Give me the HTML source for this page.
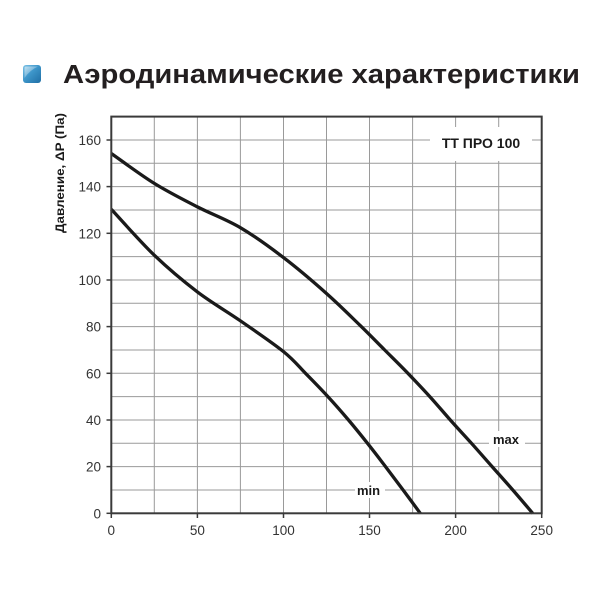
<!DOCTYPE html>
<html>
<head>
<meta charset="utf-8">
<style>
html,body{margin:0;padding:0;background:#fff;}
svg{display:block;}
</style>
</head>
<body>
<svg width="600" height="600" viewBox="0 0 600 600" xmlns="http://www.w3.org/2000/svg">
<defs>
<linearGradient id="ig" x1="0" y1="0" x2="1" y2="1">
<stop offset="0" stop-color="#7cc2e6"/>
<stop offset="0.45" stop-color="#3d95c9"/>
<stop offset="1" stop-color="#1f6fa5"/>
</linearGradient>
<linearGradient id="hl" x1="0" y1="0" x2="1" y2="1">
<stop offset="0" stop-color="#ffffff" stop-opacity="0.55"/>
<stop offset="1" stop-color="#ffffff" stop-opacity="0"/>
</linearGradient>
</defs>
<rect width="600" height="600" fill="#fff"/>
<!-- title icon -->
<rect x="23" y="65" width="18" height="18" rx="3" ry="3" fill="url(#ig)"/>
<path d="M24.5,78 L24.5,68 Q24.5,66.5 26,66.5 L38,66.5 Q30,70 24.5,78 Z" fill="url(#hl)"/>
<!-- title -->
<text x="63" y="83" font-family="Liberation Sans, sans-serif" font-weight="bold" font-size="25.5" fill="#231f20" textLength="517" lengthAdjust="spacingAndGlyphs">Аэродинамические характеристики</text>

<!-- grid -->
<g stroke="#9a9a9a" stroke-width="1" fill="none">
<line x1="154.3" y1="116.6" x2="154.3" y2="513.3"/>
<line x1="197.4" y1="116.6" x2="197.4" y2="513.3"/>
<line x1="240.4" y1="116.6" x2="240.4" y2="513.3"/>
<line x1="283.5" y1="116.6" x2="283.5" y2="513.3"/>
<line x1="326.5" y1="116.6" x2="326.5" y2="513.3"/>
<line x1="369.5" y1="116.6" x2="369.5" y2="513.3"/>
<line x1="412.6" y1="116.6" x2="412.6" y2="513.3"/>
<line x1="455.6" y1="116.6" x2="455.6" y2="513.3"/>
<line x1="498.7" y1="116.6" x2="498.7" y2="513.3"/>
<line x1="111.3" y1="490.0" x2="541.7" y2="490.0"/>
<line x1="111.3" y1="466.6" x2="541.7" y2="466.6"/>
<line x1="111.3" y1="443.3" x2="541.7" y2="443.3"/>
<line x1="111.3" y1="420.0" x2="541.7" y2="420.0"/>
<line x1="111.3" y1="396.6" x2="541.7" y2="396.6"/>
<line x1="111.3" y1="373.3" x2="541.7" y2="373.3"/>
<line x1="111.3" y1="350.0" x2="541.7" y2="350.0"/>
<line x1="111.3" y1="326.6" x2="541.7" y2="326.6"/>
<line x1="111.3" y1="303.3" x2="541.7" y2="303.3"/>
<line x1="111.3" y1="280.0" x2="541.7" y2="280.0"/>
<line x1="111.3" y1="256.6" x2="541.7" y2="256.6"/>
<line x1="111.3" y1="233.3" x2="541.7" y2="233.3"/>
<line x1="111.3" y1="210.0" x2="541.7" y2="210.0"/>
<line x1="111.3" y1="186.6" x2="541.7" y2="186.6"/>
<line x1="111.3" y1="163.3" x2="541.7" y2="163.3"/>
<line x1="111.3" y1="140.0" x2="541.7" y2="140.0"/>
</g>

<!-- model label box -->
<rect x="430" y="127" width="102" height="34" fill="#fff"/>
<text x="481" y="148" text-anchor="middle" font-family="Liberation Sans, sans-serif" font-weight="bold" font-size="14" fill="#1a1a1a">ТТ ПРО 100</text>

<!-- curves -->
<g fill="none" stroke="#1a1a1a" stroke-width="3.3" stroke-linejoin="round" stroke-linecap="butt">
<path d="M111.3,153.5 C118.5,158.5 140.0,174.5 154.3,183.4 C168.6,192.3 183.1,199.5 197.4,206.9 C211.8,214.3 226.1,219.3 240.4,227.7 C254.8,236.2 269.2,246.6 283.5,257.6 C297.9,268.6 313.8,282.2 326.5,293.5 C339.2,304.8 350.2,315.8 359.9,325.2 C369.6,334.6 376.7,342.0 384.7,350.0 C392.7,358.0 400.4,365.5 407.9,373.3 C415.4,381.1 422.7,388.8 429.8,396.6 C436.9,404.4 443.4,412.2 450.3,420.0 C457.2,427.8 464.5,435.5 471.5,443.3 C478.5,451.1 485.2,458.8 492.1,466.6 C499.0,474.4 506.0,482.2 512.8,490.0 C519.6,497.8 529.4,509.4 532.7,513.3"/>
<path d="M111.3,209.3 C118.5,217.0 140.0,241.4 154.3,255.2 C168.7,269.0 183.1,281.0 197.4,291.9 C211.8,302.8 226.1,310.9 240.4,320.8 C254.8,330.8 272.7,342.9 283.5,351.6 C294.4,360.4 298.1,365.8 305.5,373.3 C312.9,380.8 320.7,388.8 327.9,396.6 C335.1,404.4 341.9,412.2 348.5,420.0 C355.1,427.8 361.3,435.5 367.5,443.3 C373.7,451.1 379.6,458.8 385.5,466.6 C391.4,474.4 397.3,482.2 403.1,490.0 C408.9,497.8 417.4,509.4 420.3,513.3"/>
</g>

<!-- series labels -->
<rect x="489" y="431" width="36" height="16" fill="#fff"/>
<text x="493" y="444" font-family="Liberation Sans, sans-serif" font-weight="bold" font-size="13" fill="#1a1a1a">max</text>
<rect x="355" y="482" width="30" height="16" fill="#fff"/>
<text x="357" y="495" font-family="Liberation Sans, sans-serif" font-weight="bold" font-size="13" fill="#1a1a1a">min</text>

<!-- frame -->
<rect x="111.3" y="116.6" width="430.4" height="396.7" fill="none" stroke="#3a3a3a" stroke-width="2"/>

<!-- ticks -->
<g stroke="#3a3a3a" stroke-width="1.5">
<line x1="106.5" y1="513.3" x2="111.3" y2="513.3"/>
<line x1="106.5" y1="466.6" x2="111.3" y2="466.6"/>
<line x1="106.5" y1="420.0" x2="111.3" y2="420.0"/>
<line x1="106.5" y1="373.3" x2="111.3" y2="373.3"/>
<line x1="106.5" y1="326.6" x2="111.3" y2="326.6"/>
<line x1="106.5" y1="280.0" x2="111.3" y2="280.0"/>
<line x1="106.5" y1="233.3" x2="111.3" y2="233.3"/>
<line x1="106.5" y1="186.6" x2="111.3" y2="186.6"/>
<line x1="106.5" y1="140.0" x2="111.3" y2="140.0"/>
<line x1="111.3" y1="513.3" x2="111.3" y2="518"/>
<line x1="197.4" y1="513.3" x2="197.4" y2="518"/>
<line x1="283.5" y1="513.3" x2="283.5" y2="518"/>
<line x1="369.5" y1="513.3" x2="369.5" y2="518"/>
<line x1="455.6" y1="513.3" x2="455.6" y2="518"/>
<line x1="541.7" y1="513.3" x2="541.7" y2="518"/>
</g>

<!-- y tick labels -->
<g font-family="Liberation Sans, sans-serif" font-size="13.5" fill="#333" text-anchor="end">
<text x="101" y="518.3">0</text>
<text x="101" y="471.6">20</text>
<text x="101" y="425.0">40</text>
<text x="101" y="378.3">60</text>
<text x="101" y="331.6">80</text>
<text x="101" y="285.0">100</text>
<text x="101" y="238.3">120</text>
<text x="101" y="191.6">140</text>
<text x="101" y="145.0">160</text>
</g>
<!-- x tick labels -->
<g font-family="Liberation Sans, sans-serif" font-size="13.5" fill="#333" text-anchor="middle">
<text x="111.3" y="535">0</text>
<text x="197.4" y="535">50</text>
<text x="283.5" y="535">100</text>
<text x="369.5" y="535">150</text>
<text x="455.6" y="535">200</text>
<text x="541.7" y="535">250</text>
</g>

<!-- y axis title -->
<text transform="translate(64,173) rotate(-90)" text-anchor="middle" font-family="Liberation Sans, sans-serif" font-weight="bold" font-size="11.5" fill="#1a1a1a" textLength="120" lengthAdjust="spacingAndGlyphs">Давление, ΔP (Па)</text>
</svg>
</body>
</html>
